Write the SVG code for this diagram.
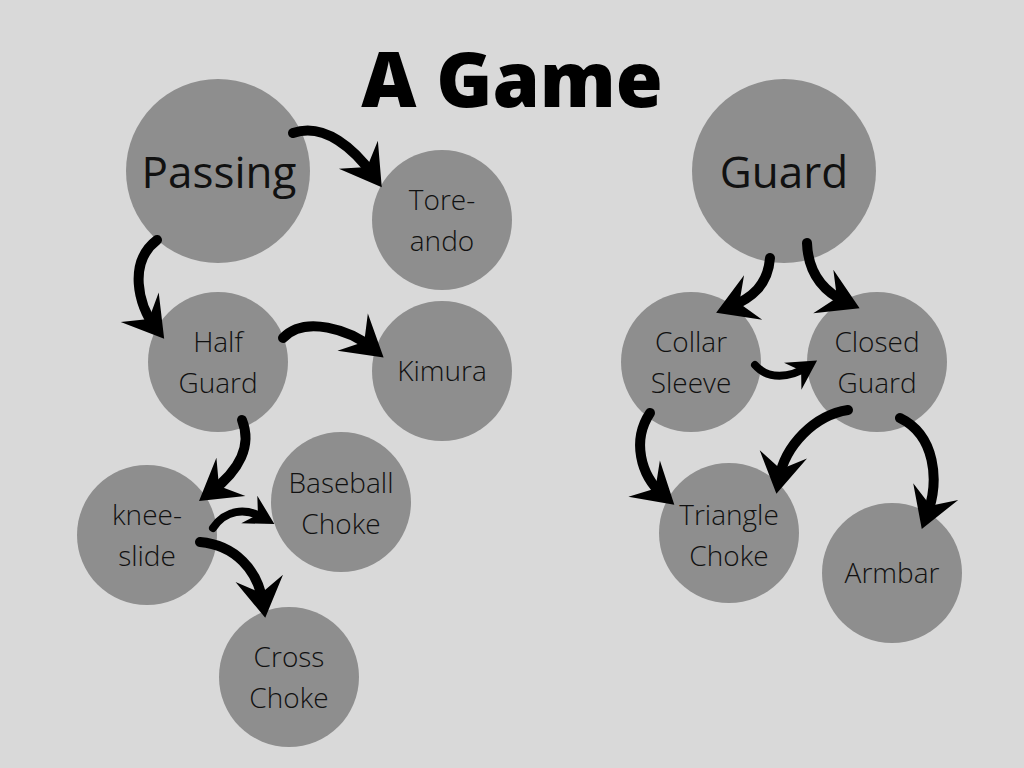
<svg xmlns="http://www.w3.org/2000/svg" width="1024" height="768" viewBox="0 0 1024 768">
<style>
.n{fill:#8e8e8e}
.t{font-family:"Open Sans","Liberation Sans",sans-serif;font-weight:300;font-size:28px;fill:#111;text-anchor:middle}
.big{font-weight:400;font-size:44px}
.title{font-family:"Open Sans","Liberation Sans",sans-serif;font-weight:800;font-size:76px;fill:#000;text-anchor:middle}
.a{fill:none;stroke:#000;stroke-width:10;stroke-linecap:round;marker-end:url(#h)}
.s{stroke-width:8;marker-end:url(#hs)}
</style>
<defs>
<marker id="h" markerUnits="userSpaceOnUse" orient="auto" markerWidth="70" markerHeight="70" viewBox="-35 -35 70 70" refX="0" refY="0" overflow="visible">
<path d="M15 0 L-25 -24 L-10 0 L-25 24 Z" fill="#000"/>
</marker>
<marker id="hs" markerUnits="userSpaceOnUse" orient="auto" markerWidth="60" markerHeight="60" viewBox="-30 -30 60 60" refX="0" refY="0" overflow="visible">
<path d="M12 0 L-17 -16 L-7 0 L-17 16 Z" fill="#000"/>
</marker>
</defs>
<rect width="1024" height="768" fill="#d9d9d9"/>
<text class="title" x="512" y="107">A Game</text>
<g id="passing"><circle class="n" cx="218" cy="171" r="92"/><text class="t big" x="219" y="188">Passing</text></g>
<g id="toreando"><circle class="n" cx="442" cy="220" r="70"/><text class="t" x="442" y="210">Tore-</text><text class="t" x="442" y="251">ando</text></g>
<g id="halfguard"><circle class="n" cx="218" cy="362" r="70"/><text class="t" x="218" y="352">Half</text><text class="t" x="218" y="393">Guard</text></g>
<g id="kimura"><circle class="n" cx="442" cy="371" r="70"/><text class="t" x="442" y="381">Kimura</text></g>
<g id="kneeslide"><circle class="n" cx="147" cy="535" r="70"/><text class="t" x="147" y="525">knee-</text><text class="t" x="147" y="566">slide</text></g>
<g id="baseball"><circle class="n" cx="341" cy="502" r="70"/><text class="t" x="341" y="493">Baseball</text><text class="t" x="341" y="534">Choke</text></g>
<g id="cross"><circle class="n" cx="289" cy="677" r="70"/><text class="t" x="289" y="667">Cross</text><text class="t" x="289" y="708">Choke</text></g>
<g id="guard"><circle class="n" cx="784" cy="171" r="92"/><text class="t big" x="784" y="188">Guard</text></g>
<g id="collar"><circle class="n" cx="691" cy="362" r="70"/><text class="t" x="691" y="352">Collar</text><text class="t" x="691" y="393">Sleeve</text></g>
<g id="closed"><circle class="n" cx="877" cy="362" r="70"/><text class="t" x="877" y="352">Closed</text><text class="t" x="877" y="393">Guard</text></g>
<g id="triangle"><circle class="n" cx="729" cy="533" r="70"/><text class="t" x="729" y="525">Triangle</text><text class="t" x="729" y="566">Choke</text></g>
<g id="armbar"><circle class="n" cx="892" cy="573" r="70"/><text class="t" x="892" y="583">Armbar</text></g>
<g id="connectors">
<path class="a" d="M293 133 C325 122 355 150 373 175"/>
<path class="a" d="M157 240 C128 262 138 305 155 327"/>
<path class="a" d="M283 338 C305 315 350 330 372 348"/>
<path class="a" d="M242 420 C252 445 240 470 211 492"/>
<path class="a s" d="M213 528 C225 510 245 507 264 518"/>
<path class="a" d="M200 542 C235 545 258 570 263 603"/>
<path class="a" d="M770 258 C768 285 752 298 730 307"/>
<path class="a" d="M807 243 C808 270 820 290 846 302"/>
<path class="a s" d="M755 365 C768 380 790 378 807 367"/>
<path class="a" d="M650 413 C632 440 640 475 663 495"/>
<path class="a" d="M848 410 C815 415 785 445 779 479"/>
<path class="a" d="M900 418 C935 435 940 480 927 515"/>
</g>
</svg>
